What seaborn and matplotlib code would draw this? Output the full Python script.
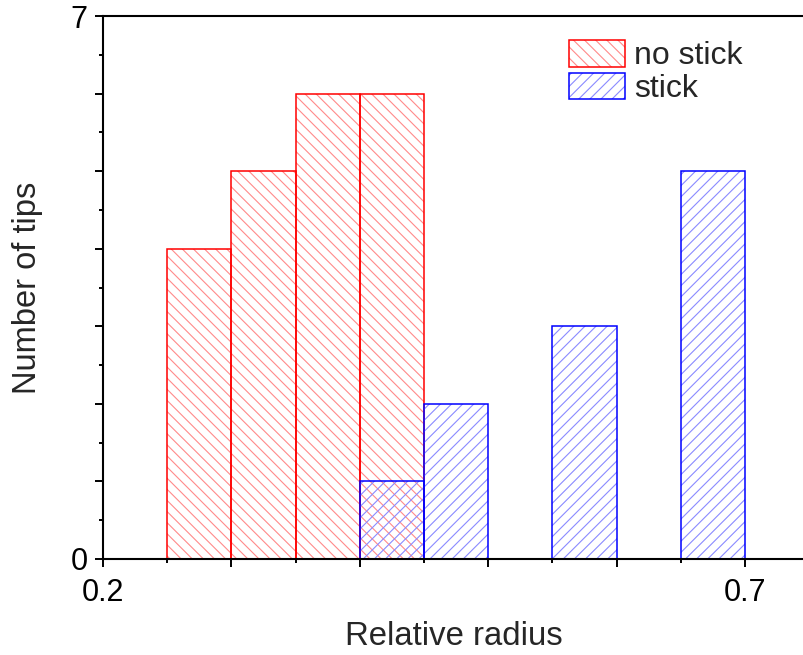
import numpy as np
import pandas as pd
import seaborn as sns
import matplotlib
matplotlib.use("Agg")
import matplotlib.pyplot as plt
from matplotlib.patches import Patch
from matplotlib.legend_handler import HandlerTuple
from matplotlib.ticker import FixedLocator, MultipleLocator, FuncFormatter

# Histogram counts per radius bin (bin width 0.05)
no_stick_edges = [0.25, 0.30, 0.35, 0.40, 0.45]
no_stick_counts = [4, 5, 6, 6]
stick_edges = [0.40, 0.45, 0.50, 0.55, 0.60, 0.65, 0.70]
stick_counts = [1, 2, 0, 3, 0, 5]

series_labels = ["no stick", "stick"]
x_tick_labels = {0.2: "0.2", 0.7: "0.7"}
y_tick_labels = {0: "0", 7: "7"}

sns.set_style("white")
plt.rcParams["font.family"] = ["Liberation Sans", "DejaVu Sans"]
plt.rcParams["hatch.linewidth"] = 0.8

fig = plt.figure(figsize=(8.04, 6.55), dpi=100)
ax = fig.add_axes([103 / 804, 1 - 559 / 655, 1 - 103 / 804, (559 - 16) / 655])


def centers_of(edges):
    e = np.asarray(edges)
    return (e[:-1] + e[1:]) / 2


def draw_series(edges, counts, line_col, hatch_col, hatch):
    df = pd.DataFrame({"radius": centers_of(edges), "n": counts})
    df = df[df["n"] > 0]
    start = len(ax.patches)
    sns.histplot(data=df, x="radius", weights="n", bins=edges, ax=ax,
                 element="bars", fill=True, color=hatch_col, linewidth=0)
    for p in ax.patches[start:]:
        p.set_facecolor("none")
        p.set_edgecolor(hatch_col)
        p.set_hatch(hatch)
        p.set_linewidth(0)
        if p.get_height() == 0:
            p.set_visible(False)
    start = len(ax.patches)
    sns.histplot(data=df, x="radius", weights="n", bins=edges, ax=ax,
                 element="bars", fill=False, color=line_col, linewidth=1.1)
    for p in ax.patches[start:]:
        p.set_edgecolor(line_col)
        if p.get_height() == 0:
            p.set_visible(False)


red, red_light = "#ff0000", "#ff8a8a"
blue, blue_light = "#0000ff", "#8a8aff"

draw_series(no_stick_edges, no_stick_counts, red, red_light, "\\\\\\")
draw_series(stick_edges, stick_counts, blue, blue_light, "///")

ax.set_xlim(0.2, 0.2 + 701 / 1284)
ax.set_ylim(0, 7)

ax.xaxis.set_major_locator(FixedLocator([0.2, 0.3, 0.4, 0.5, 0.6, 0.7]))
ax.xaxis.set_minor_locator(FixedLocator([0.25, 0.35, 0.45, 0.55, 0.65]))
ax.yaxis.set_major_locator(MultipleLocator(1))
ax.yaxis.set_minor_locator(MultipleLocator(0.5))
ax.xaxis.set_major_formatter(FuncFormatter(
    lambda v, _: next((t for k, t in x_tick_labels.items() if abs(v - k) < 1e-6), "")))
ax.yaxis.set_major_formatter(FuncFormatter(
    lambda v, _: next((t for k, t in y_tick_labels.items() if abs(v - k) < 1e-6), "")))

ax.tick_params(which="major", direction="out", length=6, width=1.4,
               labelsize=22, color="black", labelcolor="black")
ax.tick_params(which="minor", direction="out", length=3, width=1.4, color="black")
ax.tick_params(axis="x", which="both", bottom=True, top=False, pad=8)
ax.tick_params(axis="y", which="both", left=True, right=False, pad=5)

for side in ["left", "bottom", "top"]:
    ax.spines[side].set_linewidth(1.5)
    ax.spines[side].set_color("black")
ax.spines["right"].set_visible(False)

ax.set_xlabel("Relative radius", fontsize=23.7, labelpad=9)
ax.set_ylabel("Number of tips", fontsize=23.5, labelpad=20)

handles = [
    (Patch(facecolor="none", edgecolor=red_light, hatch="\\\\\\", linewidth=0),
     Patch(facecolor="none", edgecolor=red, linewidth=1.1)),
    (Patch(facecolor="none", edgecolor=blue_light, hatch="///", linewidth=0),
     Patch(facecolor="none", edgecolor=blue, linewidth=1.1)),
]
fig.legend(handles, series_labels, handler_map={tuple: HandlerTuple(ndivide=1)},
           loc="upper left", bbox_to_anchor=(569 / 804, 1 - 40 / 655),
           frameon=False, fontsize=23, handlelength=1.75, handleheight=0.9,
           handletextpad=0.3, labelspacing=0.05, borderpad=0, borderaxespad=0)

fig.savefig("out.png", dpi=100)
